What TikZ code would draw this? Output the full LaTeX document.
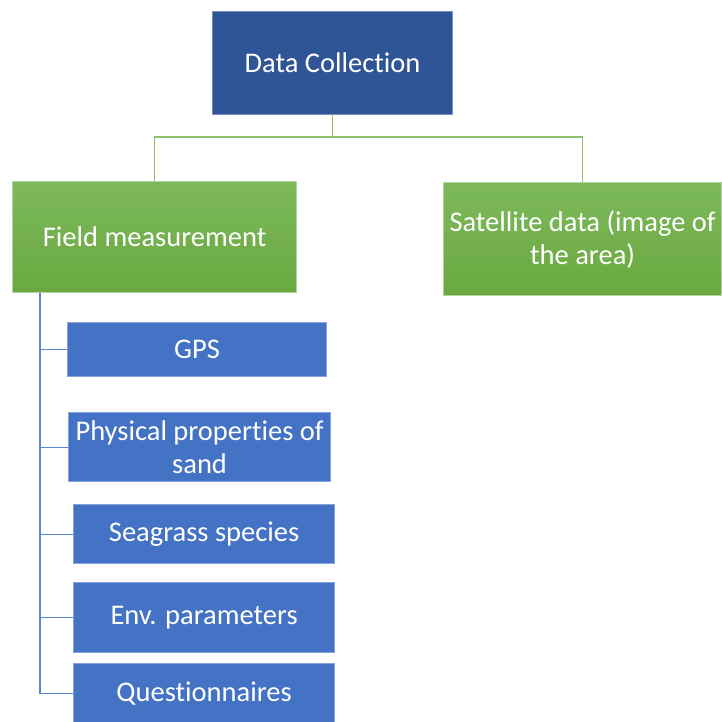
\documentclass[tikz,border=0pt]{standalone}
\usepackage{fontspec}
\setmainfont{Carlito}[Ligatures=NoCommon]
\usetikzlibrary{positioning}
\definecolor{dcblue}{HTML}{2F5597}
\definecolor{itemblue}{HTML}{4472C4}
\definecolor{spineblue}{HTML}{5B86D0}
\definecolor{leafgreen}{HTML}{6AA83F}
\definecolor{lightgreen}{HTML}{7DB95C}
\definecolor{linegreen}{HTML}{8FC06C}

\begin{document}
\begin{tikzpicture}[
  x=1pt, y=-1pt,
  box/.style = {rectangle, anchor=north west, inner sep=0pt, align=center, text=white,
                font=\fontsize{28.5}{33}\selectfont, line width=1.2pt},
  topbox/.style = {box, fill=dcblue, draw=dcblue!65!white},
  groupbox/.style = {box, top color=lightgreen, bottom color=leafgreen, draw=lightgreen!60!white},
  itembox/.style = {box, fill=itemblue, draw=itemblue!65!white, minimum height=56pt},
  greenline/.style = {draw=linegreen, line width=1.2pt},
  blueline/.style = {draw=spineblue, line width=1.2pt}
]
\useasboundingbox (0,0) rectangle (722,722);

% top level
\node[topbox, minimum width=240pt, minimum height=103pt] (dc) at (212,11) {Data Collection};

% second level
\node[groupbox, minimum width=284pt, minimum height=111pt] (fm) at (12,181) {Field measurement};
\node[groupbox, minimum width=278pt, minimum height=113pt] (sat) at (443,182) {Satellite data (image of\\the area)};

% items under field measurement
\node[itembox, minimum width=259pt, minimum height=54pt] (gps) at (67,322) {GPS};
\node[itembox, minimum width=262pt, minimum height=69pt] (sand) at (68,412) {Physical properties of\\sand};
\node[itembox, minimum width=261pt, minimum height=59pt] (sea) at (73,504) {Seagrass species};
\node[itembox, minimum width=261pt, minimum height=70pt] (env) at (73,582) {Env. parameters};
\node[itembox, minimum width=261pt, minimum height=60pt] (quest) at (73,663) {Questionnaires};

\coordinate (bus) at (0,137);
\coordinate (spine) at (40,0);

% tree lines
\draw[greenline] (dc.south) -- (dc.south |- bus);
\draw[greenline] (fm.north) |- (dc.south |- bus) -| (sat.north);
\draw[blueline] (fm.south -| spine) |- (quest.west);
\foreach \n in {gps, sand, sea, env}
  \draw[blueline] (spine |- \n.west) -- (\n.west);
\end{tikzpicture}
\end{document}
